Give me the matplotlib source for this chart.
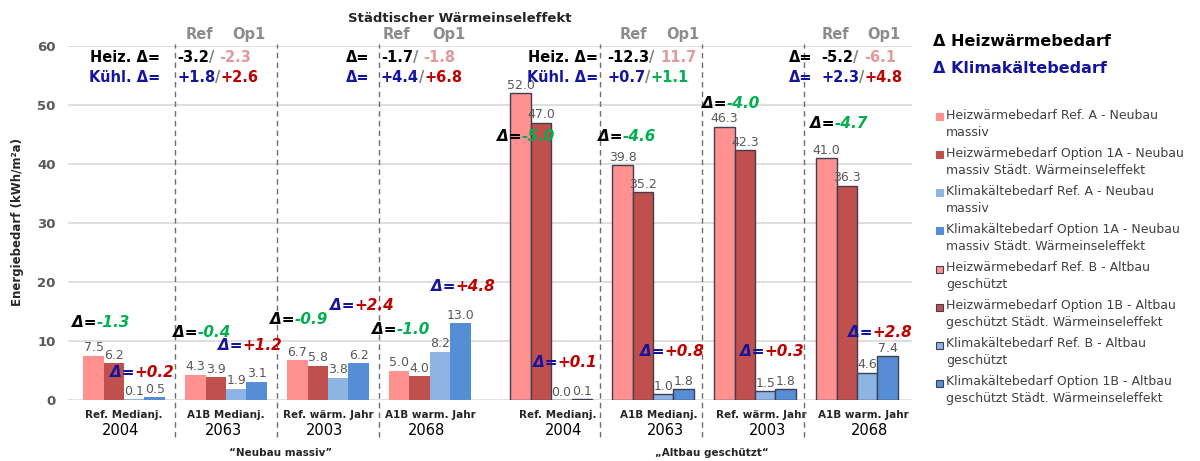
import matplotlib
matplotlib.use('Agg')
import matplotlib.pyplot as plt
from matplotlib.patches import Rectangle
import matplotlib.transforms as mtransforms
import numpy as np

categories = ["Ref. Medianj.", "A1B Medianj.", "Ref. wärm. Jahr", "A1B warm. Jahr"]
years = ["2004", "2063", "2003", "2068"]
group_names = ["“Neubau massiv”", "„Altbau geschützt“"]

# Neubau massiv (A)
heat_ref_a = [7.5, 4.3, 6.7, 5.0]
heat_opt_a = [6.2, 3.9, 5.8, 4.0]
cool_ref_a = [0.1, 1.9, 3.8, 8.2]
cool_opt_a = [0.5, 3.1, 6.2, 13.0]

# Altbau geschützt (B)
heat_ref_b = [52.0, 39.8, 46.3, 41.0]
heat_opt_b = [47.0, 35.2, 42.3, 36.3]
cool_ref_b = [0.0, 1.0, 1.5, 4.6]
cool_opt_b = [0.1, 1.8, 1.8, 7.4]

# Option 1 minus Ref within each year
heat_delta_a = ["-1.3", "-0.4", "-0.9", "-1.0"]
cool_delta_a = ["+0.2", "+1.2", "+2.4", "+4.8"]
heat_delta_b = ["-5.0", "-4.6", "-4.0", "-4.7"]
cool_delta_b = ["+0.1", "+0.8", "+0.3", "+2.8"]

# future year minus reference year (Ref / Op1)
heat_trend_ref = ["-3.2", "-1.7", "-12.3", "-5.2"]
heat_trend_op = ["-2.3", "-1.8", "11.7", "-6.1"]
cool_trend_ref = ["+1.8", "+4.4", "+0.7", "+2.3"]
cool_trend_op = ["+2.6", "+6.8", "+1.1", "+4.8"]

legend_labels = [
    "Heizwärmebedarf Ref. A - Neubau\nmassiv",
    "Heizwärmebedarf Option 1A - Neubau\nmassiv Städt. Wärmeinseleffekt",
    "Klimakältebedarf Ref. A - Neubau\nmassiv",
    "Klimakältebedarf Option 1A - Neubau\nmassiv Städt. Wärmeinseleffekt",
    "Heizwärmebedarf Ref. B - Altbau\ngeschützt",
    "Heizwärmebedarf Option 1B - Altbau\ngeschützt Städt. Wärmeinseleffekt",
    "Klimakältebedarf Ref. B - Altbau\ngeschützt",
    "Klimakältebedarf Option 1B - Altbau\ngeschützt Städt. Wärmeinseleffekt",
]

C_HEAT_REF = "#FF9191"
C_HEAT_OPT = "#C0504D"
C_COOL_REF = "#8EB4E3"
C_COOL_OPT = "#558ED5"
BLUE = "#14149E"
GREEN = "#00B050"
RED = "#C00000"
PINK = "#E39A9A"
GRAY_TXT = "#595959"

fig = plt.figure(figsize=(12, 4.61), dpi=100)
ax = fig.add_axes([0.0567, 0.1323, 0.7033, 0.768])

w = 0.2
x_a = np.arange(4)
x_b = np.arange(4) + 4.19
offsets = [-1.5 * w, -0.5 * w, 0.5 * w, 1.5 * w]

series_a = [(heat_ref_a, C_HEAT_REF), (heat_opt_a, C_HEAT_OPT),
            (cool_ref_a, C_COOL_REF), (cool_opt_a, C_COOL_OPT)]
series_b = [(heat_ref_b, C_HEAT_REF), (heat_opt_b, C_HEAT_OPT),
            (cool_ref_b, C_COOL_REF), (cool_opt_b, C_COOL_OPT)]

for (vals, col), off in zip(series_a, offsets):
    bars = ax.bar(x_a + off, vals, w, color=col, zorder=3)
    ax.bar_label(bars, labels=[f"{v:.1f}" for v in vals], padding=1,
                 fontsize=9, color=GRAY_TXT)
for (vals, col), off in zip(series_b, offsets):
    bars = ax.bar(x_b + off, vals, w, color=col, edgecolor="#3F3F4F",
                  linewidth=1.0, zorder=3)
    ax.bar_label(bars, labels=[f"{v:.1f}" for v in vals], padding=1,
                 fontsize=9, color=GRAY_TXT)

ax.set_xlim(-0.55, 7.73)
ax.set_ylim(0, 60)
ax.set_yticks(range(0, 61, 10))
ax.tick_params(axis="y", length=0, pad=9, labelsize=9.5, labelcolor=GRAY_TXT)
for lbl in ax.get_yticklabels():
    lbl.set_fontweight("bold")
ax.set_xticks([])
ax.grid(axis="y", color="#D9D9D9", linewidth=1.2, zorder=0)
for s in ax.spines.values():
    s.set_visible(False)

trans = mtransforms.blended_transform_factory(ax.transData, ax.transAxes)

# dashed separators between years
seps = list((x_a[:-1] + x_a[1:]) / 2) + list((x_b[:-1] + x_b[1:]) / 2 - 0.02)
for sx in seps:
    ax.plot([sx, sx], [-0.105, 1.006], transform=trans, clip_on=False,
            color="#6E6E6E", linewidth=1.0, dashes=(4, 3), zorder=4)

# category and year labels
for xs, dx_c, dx_y in ((x_a, 0.0, -0.03), (x_b, 0.06, 0.12)):
    for i in range(4):
        ax.text(xs[i] + dx_c, -0.042, categories[i], transform=trans,
                ha="center", va="center", fontsize=7.5, fontweight="bold",
                color="#262626")
        ax.text(xs[i] + dx_y, -0.087, years[i], transform=trans,
                ha="center", va="center", fontsize=10.5, color="black")
ax.text(1.54, -0.15, group_names[0], transform=trans, ha="center",
        va="center", fontsize=7.5, fontweight="bold", color="#262626")
ax.text(5.77, -0.15, group_names[1], transform=trans, ha="center",
        va="center", fontsize=7.5, fontweight="bold", color="#262626")


def chain(x, y, parts, **kw):
    """Draw consecutive coloured text pieces starting at (x, y)."""
    t = ax.text(x, y, parts[0][0], color=parts[0][1], ha="left",
                va="center", clip_on=False, zorder=6, **kw)
    for s, c in parts[1:]:
        t = ax.annotate(s, xy=(1, 0), xycoords=t, ha="left", va="bottom",
                        color=c, annotation_clip=False, zorder=6, **kw)
    return t


delta_kw = dict(fontsize=11, fontweight="bold", fontstyle="italic")


def delta_color(s):
    return GREEN if s.startswith("-") else RED


# deltas next to the bars
heat_pos = [(-0.51, 13.2), (0.48, 11.4), (1.43, 13.7), (2.43, 12.0),
            (3.66, 44.6), (4.65, 44.6), (5.67, 50.2), (6.73, 46.8)]
cool_pos = [(-0.14, 4.6), (0.92, 9.2), (2.02, 16.1), (3.01, 19.2),
            (4.01, 6.4), (5.06, 8.3), (6.04, 8.3), (7.10, 11.5)]
for (px, py), d in zip(heat_pos, heat_delta_a + heat_delta_b):
    chain(px, py, [("Δ=", "black"), (d, delta_color(d))], **delta_kw)
for (px, py), d in zip(cool_pos, cool_delta_a + cool_delta_b):
    chain(px, py, [("Δ=", BLUE), (d, delta_color(d))], **delta_kw)

# trend rows above the plot
top_kw = dict(fontsize=10.5, fontweight="bold")
prefix_x = [0.35, 2.41, 4.65, 6.75]
value_x = [0.52, 2.52, 4.74, 6.84]
heat_prefix = ["Heiz. Δ=", "Δ=", "Heiz. Δ=", "Δ="]
cool_prefix = ["Kühl. Δ=", "Δ=", "Kühl. Δ=", "Δ="]
ref_x = [0.60, 2.54, 4.86, 6.84]
op_x = [1.06, 3.02, 5.32, 7.29]
for k in range(4):
    ax.text(ref_x[k], 62.0, "Ref", ha="left", va="center", color="#8C8C8C",
            clip_on=False, **top_kw)
    ax.text(op_x[k], 62.0, "Op1", ha="left", va="center", color="#8C8C8C",
            clip_on=False, **top_kw)
    ax.text(prefix_x[k], 58.1, heat_prefix[k], ha="right", va="center",
            color="black", clip_on=False, zorder=6, **top_kw)
    ax.text(prefix_x[k], 54.6, cool_prefix[k], ha="right", va="center",
            color=BLUE, clip_on=False, zorder=6, **top_kw)
    chain(value_x[k], 58.1, [(heat_trend_ref[k], "black"), ("/ ", "#808080"),
                             (heat_trend_op[k], PINK)], **top_kw)
    op_col = GREEN if k == 2 else RED
    chain(value_x[k], 54.6, [(cool_trend_ref[k], BLUE), ("/", "#808080"),
                             (cool_trend_op[k], op_col)], **top_kw)

fig.text(460 / 1200, 1 - 18 / 461, "Städtischer Wärmeinseleffekt",
         ha="center", va="center", fontsize=9.5, fontweight="bold",
         color="#262626")
fig.text(18 / 1200, 0.518, "Energiebedarf (kWh/m²a)", rotation=90,
         ha="center", va="center", fontsize=8.5, fontweight="bold",
         color="#262626")

# right-hand key
fig.text(933 / 1200, 1 - 42 / 461, "Δ Heizwärmebedarf", ha="left",
         va="center", fontsize=11.5, fontweight="bold", color="black")
fig.text(933 / 1200, 1 - 68 / 461, "Δ Klimakältebedarf", ha="left",
         va="center", fontsize=11.5, fontweight="bold", color=BLUE)

leg_colors = [C_HEAT_REF, C_HEAT_OPT, C_COOL_REF, C_COOL_OPT] * 2
for i, (lab, fc) in enumerate(zip(legend_labels, leg_colors)):
    ypx = 117 + 38 * i
    ec = "#3F3F4F" if i >= 4 else fc
    fig.patches.append(Rectangle((936 / 1200, 1 - (ypx + 3.5) / 461),
                                 7 / 1200, 7 / 461, transform=fig.transFigure,
                                 facecolor=fc, edgecolor=ec, linewidth=0.8))
    fig.text(946 / 1200, 1 - (ypx - 8) / 461, lab, ha="left", va="top",
             fontsize=9, color="#404040", linespacing=1.38)

plt.savefig("out.png", dpi=100)
plt.close()
